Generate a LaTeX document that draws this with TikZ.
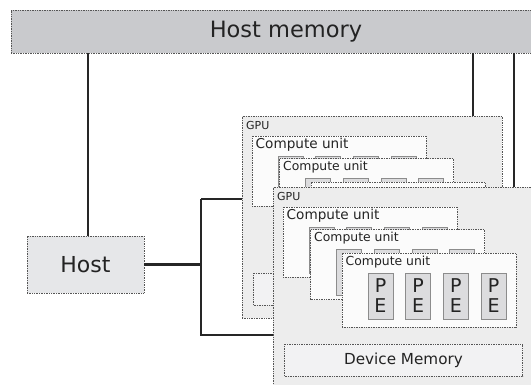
\documentclass[tikz,border=0pt]{standalone}
\usepackage{fontspec}
\setmainfont{DejaVu Sans}
\definecolor{hmfill}{RGB}{201,202,205}
\definecolor{hostfill}{RGB}{230,231,233}
\definecolor{gpufill}{RGB}{237,237,237}
\definecolor{cufill}{RGB}{251,251,251}
\definecolor{pefill}{RGB}{220,220,222}
\definecolor{pedraw}{RGB}{140,140,140}
\definecolor{devfill}{RGB}{242,242,243}
\definecolor{dotdraw}{RGB}{85,85,85}
\definecolor{txt}{RGB}{35,35,35}
\tikzset{
  dotbox/.style={draw=dotdraw, densely dotted, line width=0.7pt, inner sep=0pt, outer sep=0pt, anchor=north west},
  hmbox/.style={dotbox, fill=hmfill},
  hostbox/.style={dotbox, fill=hostfill},
  gpubox/.style={dotbox, fill=gpufill, minimum width=260pt, minimum height=202pt},
  cubox/.style={dotbox, fill=cufill, minimum width=174pt},
  devbox/.style={dotbox, fill=devfill, minimum width=238pt, minimum height=32pt},
  pebox/.style={draw=pedraw, fill=pefill, line width=0.8pt, inner sep=0pt, outer sep=0pt,
    anchor=north west, minimum width=25pt, minimum height=46pt, align=center,
    text=txt, font=\fontsize{19}{20}\selectfont},
  lbl/.style={inner sep=0pt, anchor=base west, text=txt},
  conn/.style={draw=black!85, line width=1.3pt},
  thickconn/.style={draw=black!85, line width=2.2pt}
}
% #1,#2 position, #3 name, #4 height, #5 label size, #6 PE text
\newcommand{\cublock}[6]{%
  \begin{scope}[shift={(#1,#2)}]
    \node[cubox, minimum height=#4pt] (#3) at (0,0) {};
    \node[lbl, font=\fontsize{#5}{#5}\selectfont] (#3-t) at (3.5,12) {Compute unit};
    \foreach \i in {0,1,2,3} {\node[pebox] (#3-pe\i) at (26+37.7*\i,20) {#6};}
  \end{scope}}
% #1,#2 position, #3 name, #4 = 1 for the front GPU (all parts shown)
\newcommand{\gpublock}[4]{%
  \begin{scope}[shift={(#1,#2)}]
    \node[gpubox] (#3) at (0,0) {};
    \node[lbl, font=\fontsize{11}{11}\selectfont] (#3-t) at (4,13) {GPU};
    \cublock{10}{20}{#3-cua}{70}{13.6}{}
    \cublock{37.5}{42.5}{#3-cub}{70}{12.4}{}
    \ifnum#4=1
      \cublock{69}{66}{#3-cuc}{74}{12.4}{P\\E}
    \else
      \node[cubox, minimum height=74pt] (#3-cuc) at (69,66) {};
    \fi
    \node[devbox] (#3-dev) at (11.5,157) {};
    \ifnum#4=1
      \node[text=txt, font=\fontsize{15.2}{15.2}\selectfont, inner sep=0pt] (#3-devt) at (#3-dev.center) {Device Memory};
    \fi
  \end{scope}}
\begin{document}
\begin{tikzpicture}[x=1pt,y=-1pt]
  \useasboundingbox (0,0) rectangle (531,384);
  \node[hmbox, minimum width=540pt, minimum height=43pt] (hm) at (11,10) {};
  \node[text=txt, font=\fontsize{22.5}{22.5}\selectfont, inner sep=0pt] (hmt) at (286,31.5) {Host memory};
  \node[hostbox, minimum width=117pt, minimum height=57pt] (host) at (27,236) {};
  \node[text=txt, font=\fontsize{22}{22}\selectfont, inner sep=0pt] (hostt) at (host.center) {Host};
  \coordinate (c1) at (88,0);
  \coordinate (c2) at (473,0);
  \coordinate (c3) at (514,0);
  \coordinate (br) at (201,0);
  \coordinate (ya) at (0,199);
  \coordinate (yb) at (0,335);
  \draw[conn] (hm.south -| c1) -- (host.north -| c1);
  \draw[conn] (hm.south -| c2) -- (c2 |- 0,116);
  \draw[conn] (hm.south -| c3) -- (c3 |- 0,187);
  \draw[thickconn] (host.east) -- (host.east -| br);
  \gpublock{242}{116}{gpua}{0}
  \draw[conn] (ya -| br) -- (ya -| gpua.west);
  \gpublock{273}{187}{gpub}{1}
  \draw[conn] (ya -| br) -- (yb -| br) -- (yb -| gpub.west);
\end{tikzpicture}
\end{document}
